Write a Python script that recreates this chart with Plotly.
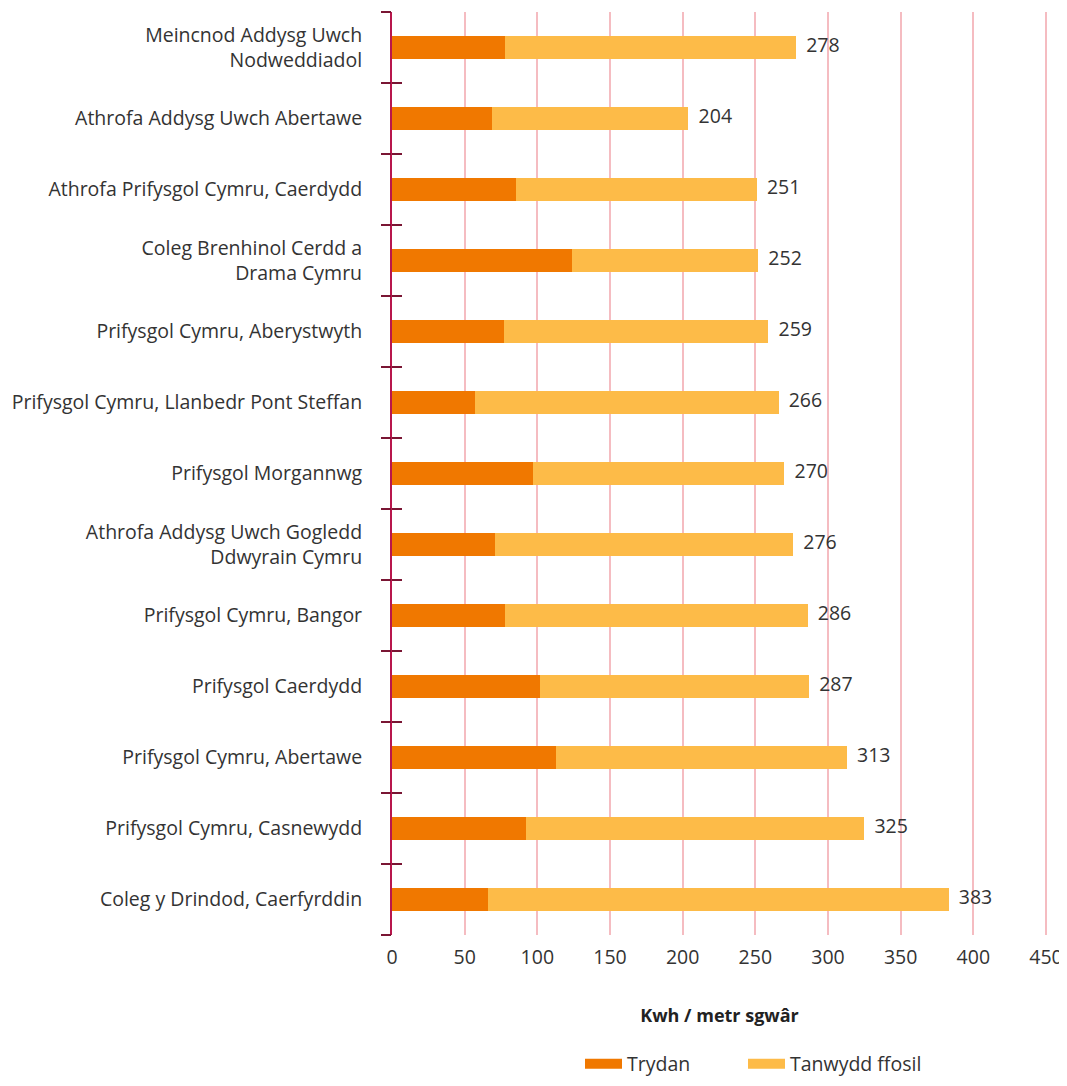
import plotly.graph_objects as go

categories = [
    "Meincnod Addysg Uwch<br>Nodweddiadol",
    "Athrofa Addysg Uwch Abertawe",
    "Athrofa Prifysgol Cymru, Caerdydd",
    "Coleg Brenhinol Cerdd a<br>Drama Cymru",
    "Prifysgol Cymru, Aberystwyth",
    "Prifysgol Cymru, Llanbedr Pont Steffan",
    "Prifysgol Morgannwg",
    "Athrofa Addysg Uwch Gogledd<br>Ddwyrain Cymru",
    "Prifysgol Cymru, Bangor",
    "Prifysgol Caerdydd",
    "Prifysgol Cymru, Abertawe",
    "Prifysgol Cymru, Casnewydd",
    "Coleg y Drindod, Caerfyrddin",
]
trydan = [78, 69, 85, 124, 77, 57, 97, 71, 78, 102, 113, 92, 66]
totals = [278, 204, 251, 252, 259, 266, 270, 276, 286, 287, 313, 325, 383]
tanwydd = [t - e for t, e in zip(totals, trydan)]
x_ticks = [0, 50, 100, 150, 200, 250, 300, 350, 400, 450]
series_names = ["Trydan", "Tanwydd ffosil"]
series_colors = ["#f07800", "#fdbb48"]

FONT = "Open Sans"
TXT = "#333333"
AXIS_COL = "#b8164c"
TICK_COL = "#7a1634"

n = len(categories)
yrange = [n - 0.5, -0.5]
boundaries = [i - 0.5 for i in range(n + 1)]

fig = go.Figure()
for vals, name, col in zip([trydan, tanwydd], series_names, series_colors):
    fig.add_trace(go.Bar(y=categories, x=vals, orientation="h", name=name,
                         marker=dict(color=col, line=dict(width=0)),
                         showlegend=False))
fig.add_trace(go.Scatter(y=categories, x=totals, mode="text",
                         text=["\u00a0\u00a0" + str(t) for t in totals],
                         textposition="middle right",
                         textfont=dict(family=FONT, size=19.5, color=TXT),
                         showlegend=False, hoverinfo="skip"))
# legend-only entries with wide swatches, one legend each
for name, col, lg in zip(series_names, series_colors, ["legend", "legend2"]):
    fig.add_trace(go.Scatter(x=[None], y=[None], mode="lines", name=name,
                             line=dict(color=col, width=12), legend=lg))
# helper traces so overlay axes are drawn
fig.add_trace(go.Scatter(y=[None], x=[None], yaxis="y2", showlegend=False, hoverinfo="skip"))
fig.add_trace(go.Scatter(y=[None], x=[None], yaxis="y3", showlegend=False, hoverinfo="skip"))

tick_axis = dict(overlaying="y", side="left", range=yrange, tickvals=boundaries,
                 ticklen=10, tickwidth=1.5, tickcolor=TICK_COL,
                 showticklabels=False, showgrid=False, zeroline=False,
                 showline=False, automargin=False)

W, H = 1059, 1070
legend_common = dict(orientation="h", xref="container", yref="container",
                     xanchor="left", y=14 / H, yanchor="middle",
                     font=dict(family=FONT, size=19.5, color=TXT),
                     itemwidth=37, bgcolor="rgba(0,0,0,0)")

fig.update_layout(
    width=W, height=H,
    margin=dict(l=384, r=20, t=4, b=H - 927),
    paper_bgcolor="white", plot_bgcolor="white",
    barmode="stack", bargap=0.67,
    font=dict(family=FONT, size=19.5, color=TXT),
    xaxis=dict(range=[0, 450.7], tickvals=x_ticks, showgrid=True,
               gridcolor="#f5bcc1", gridwidth=1.5, zeroline=False,
               showline=False, ticks="", ticklabelstandoff=8, automargin=False,
               tickfont=dict(family=FONT, size=19.5, color=TXT),
               title=dict(text="<b>Kwh / metr sgwâr</b>",
                          font=dict(family=FONT, size=18, color="#222222"),
                          standoff=40)),
    yaxis=dict(categoryorder="array", categoryarray=categories,
               range=yrange, ticks="", showline=True, linecolor=AXIS_COL,
               linewidth=2, showgrid=False, ticklabelstandoff=24,
               automargin=False,
               tickfont=dict(family=FONT, size=19.5, color=TXT)),
    yaxis2=dict(ticks="outside", **tick_axis),
    yaxis3=dict(ticks="inside", **tick_axis),
    legend=dict(x=572 / W, **legend_common),
    legend2=dict(x=(572 + 163) / W, **legend_common),
)

fig.write_html("out.html")
